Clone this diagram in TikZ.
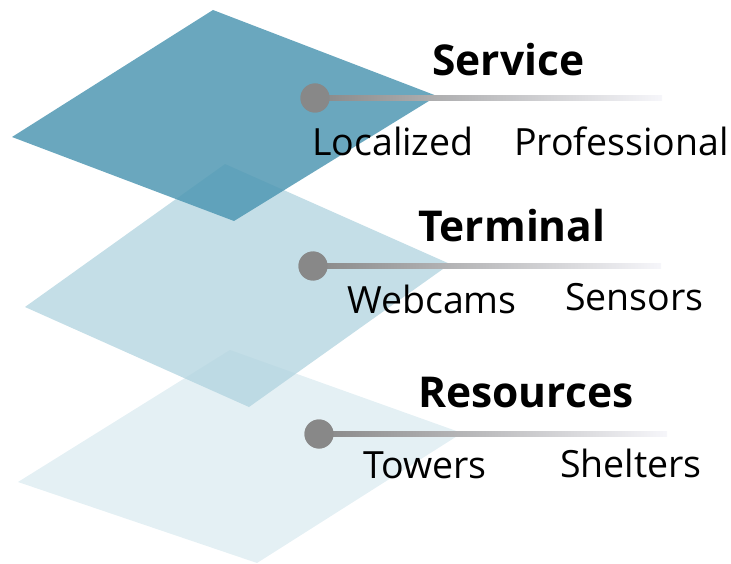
\documentclass[tikz,border=0pt]{standalone}
\usepackage{fontspec}
\setmainfont{Open Sans}
\usetikzlibrary{calc}
\definecolor{topc}{RGB}{80,152,179}
\definecolor{midc}{RGB}{176,211,223}
\definecolor{botc}{RGB}{228,240,244}
\definecolor{dotc}{RGB}{136,136,136}
\definecolor{endc}{RGB}{246,246,250}
\tikzset{
  dotnode/.style={circle, fill=dotc, minimum size=29pt, inner sep=0pt},
  head/.style={anchor=base west, inner sep=0pt, font=\fontsize{42.5}{48}\selectfont\bfseries},
  item/.style={anchor=base west, inner sep=0pt, font=\fontsize{37.5}{44}\selectfont},
}
\begin{document}
\begin{tikzpicture}[x=1pt,y=-1pt]
\useasboundingbox (0,0) rectangle (731,564);
% layers
\fill[botc] (230,350) -- (462,433) -- (257,563) -- (18,482) -- cycle;
\fill[midc, opacity=0.75] (225,164) -- (450,264) -- (249,407) -- (25,307) -- cycle;
\fill[topc, opacity=0.85] (213,10) -- (437,96) -- (234,221) -- (12,137) -- cycle;
% connectors
\coordinate (e1) at (662,98);
\coordinate (e2) at (661,266);
\coordinate (e3) at (667,434);
\node[dotnode] (d1) at (315,98) {};
\node[dotnode] (d2) at (313,266) {};
\node[dotnode] (d3) at (319,434) {};
\shade[left color=dotc, right color=endc] ($(d1.center)+(0,-2.7)$) rectangle ($(e1)+(0,2.7)$);
\shade[left color=dotc, right color=endc] ($(d2.center)+(0,-2.7)$) rectangle ($(e2)+(0,2.7)$);
\shade[left color=dotc, right color=endc] ($(d3.center)+(0,-2.7)$) rectangle ($(e3)+(0,2.7)$);
\node[dotnode] at (d1.center) {};
\node[dotnode] at (d2.center) {};
\node[dotnode] at (d3.center) {};
% texts
\node[head] (h1) at (432,76) {Service};
\node[item] (l1) at (312,156) {Localized};
\node[item] (r1) at (514,156) {Professional};
\node[head] (h2) at (418,242) {Terminal};
\node[item] (l2) at (347,313) {Webcams};
\node[item] (r2) at (565,310) {Sensors};
\node[head] (h3) at (418,407) {Resources};
\node[item] (l3) at (363,478) {Towers};
\node[item] (r3) at (560,477) {Shelters};
\end{tikzpicture}
\end{document}
